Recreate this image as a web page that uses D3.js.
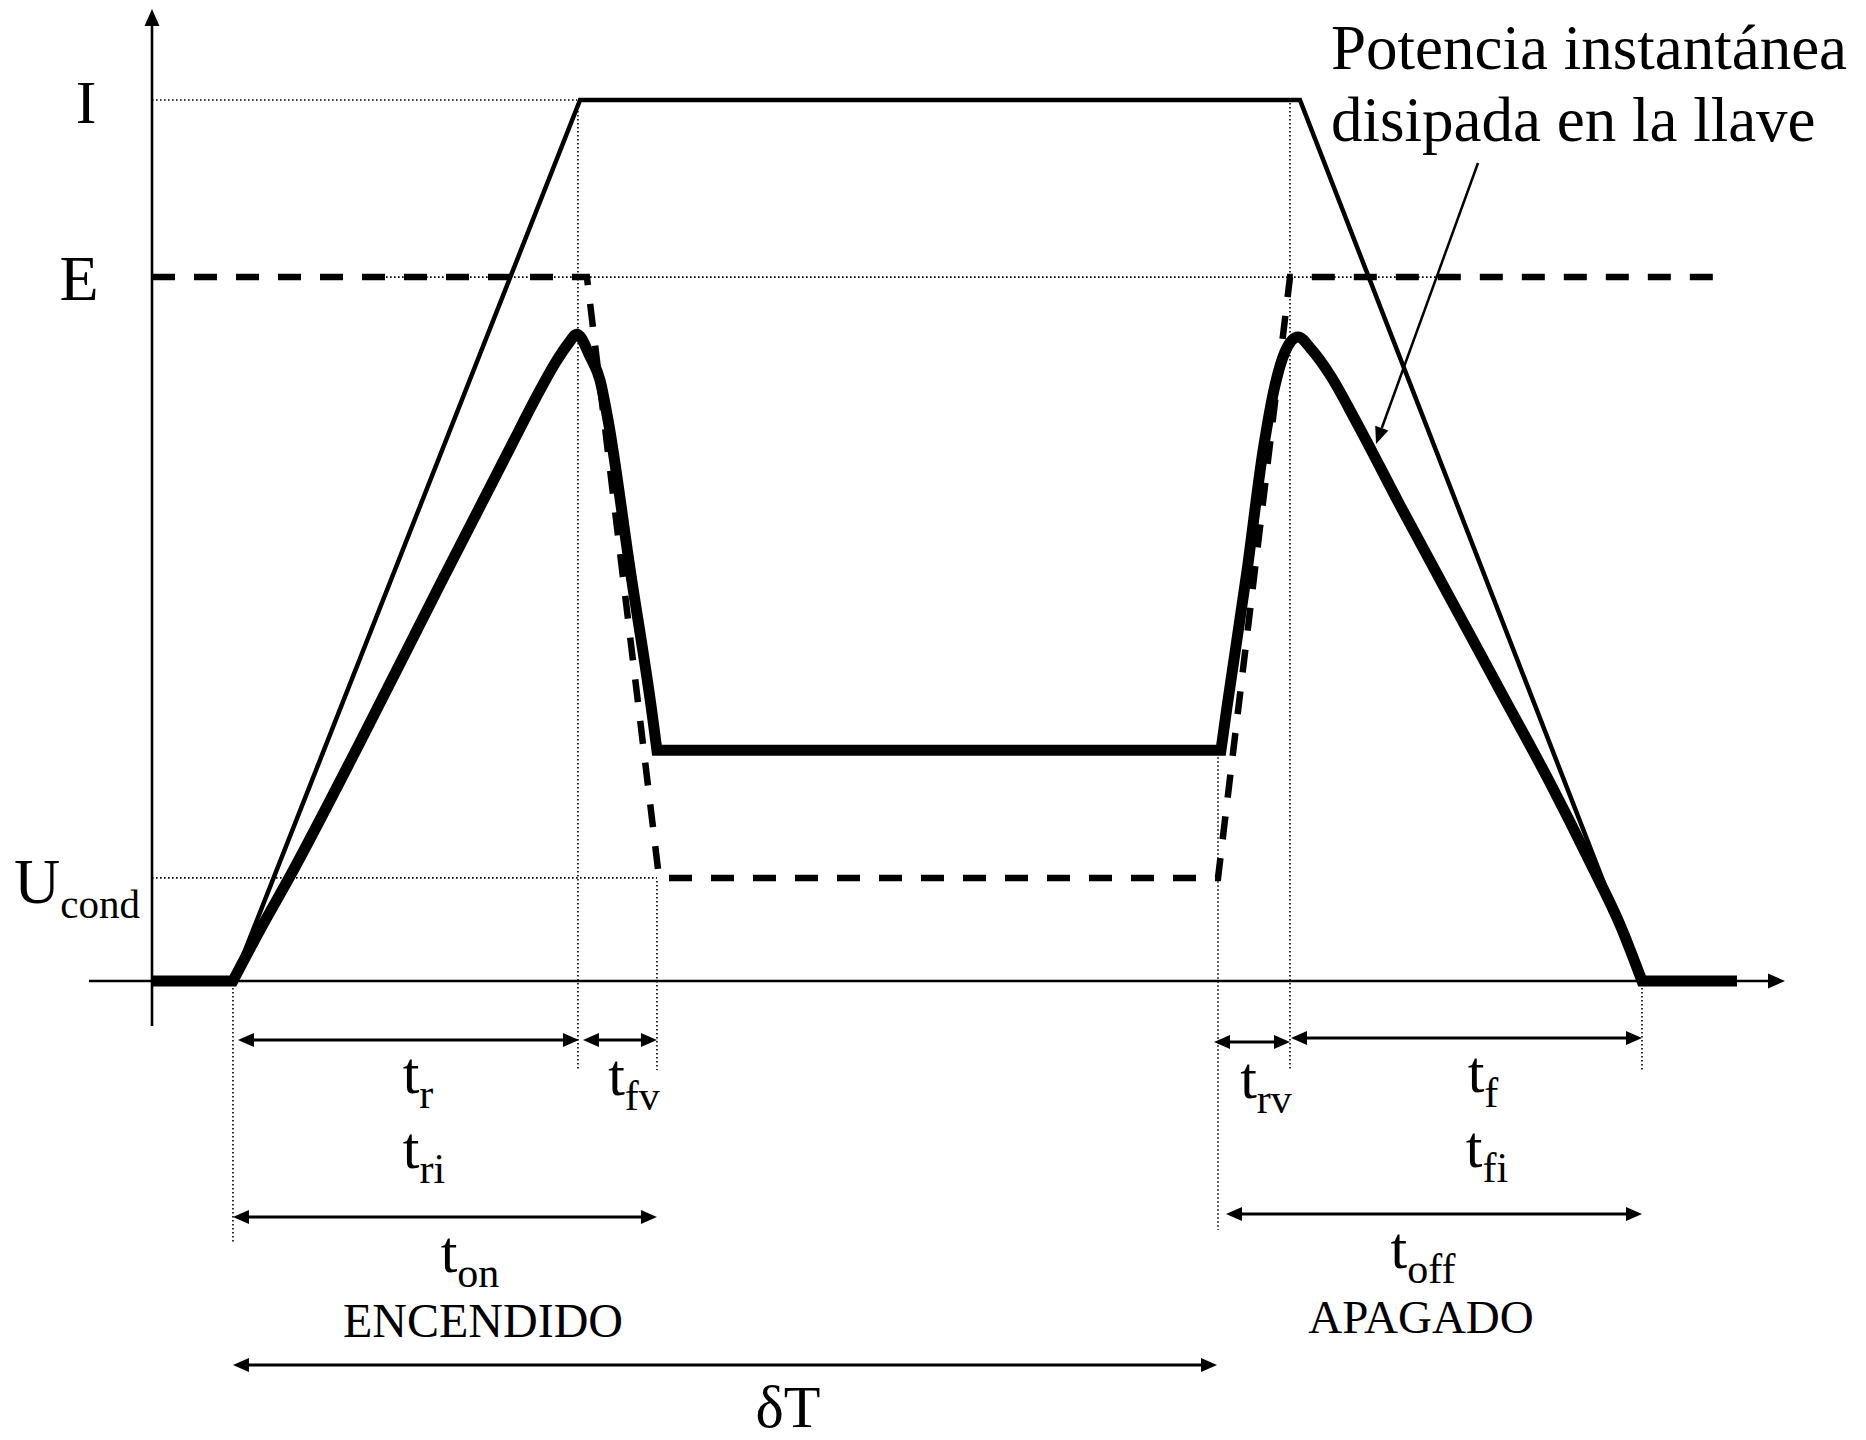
<!DOCTYPE html>
<html>
<head>
<meta charset="utf-8">
<script src="https://cdn.jsdelivr.net/npm/d3@7"></script>
<style>
html,body{margin:0;padding:0;background:#fff;}
svg{display:block;}
text{font-family:"Liberation Serif","Times New Roman",serif;fill:#000;}
</style>
</head>
<body>
<svg id="chart" width="1866" height="1440"></svg>
<script>
// ---------- DATA (time in abstract units 0..100, level as fraction of I) ----------
const levelNames  = ["I", "E", "U"];
const levelSubs   = ["", "", "cond"];
const levelValues = [1.0, 0.799, 0.117];

// switching instants
const tStart = 4.96, tI = 26.1, tV = 30.94, tOffStart = 65.32, tE = 69.73, tEnd = 91.30;

// current (thin solid trapezoid)
const currentT = [4.96, 26.23, 70.34, 91.30];
const currentV = [0, 1, 1, 0];

// voltage (dashed)
const voltageT = [0, 26.65, 31.07, 65.32, 69.73, 96.45];
const voltageV = [0.799, 0.799, 0.117, 0.117, 0.799, 0.799];

// instantaneous power (thick)
const powerPreT = [0, 4.96];
const powerPreV = [0, 0];
const powerOnT  = [4.96, 6.62, 8.46, 12.75, 17.65, 21.94, 23.78, 24.76, 25.49, 26.04, 26.84, 27.45, 27.94, 29.29, 30.64, 30.94];
const powerOnV  = [0, 0.058, 0.119, 0.271, 0.450, 0.605, 0.671, 0.703, 0.723, 0.734, 0.709, 0.682, 0.637, 0.468, 0.304, 0.262];
const powerCondT = [30.94, 65.50];
const powerCondV = [0.262, 0.262];
const powerOffT = [65.50, 65.87, 67.10, 68.08, 68.81, 69.42, 70.22, 71.08, 72.18, 73.84, 76.47, 79.53, 82.60, 85.66, 88.11, 89.95, 91.30];
const powerOffV = [0.262, 0.311, 0.466, 0.602, 0.676, 0.714, 0.731, 0.716, 0.688, 0.633, 0.540, 0.435, 0.330, 0.225, 0.135, 0.064, 0];
const powerPostT = [91.30, 97.12];
const powerPostV = [0, 0];

// dimension arrows
const dimNames  = ["tr", "tfv", "trv", "tf", "ton", "toff", "dT"];
const dimFrom   = [tStart, tI, tOffStart, tE, tStart, tOffStart, tStart];
const dimTo     = [tI, tV, tE, tEnd, tV, tEnd, tOffStart];

// time labels
const labelMain = ["t", "t", "t", "t", "t", "t", "t", "t"];
const labelSub  = ["r", "fv", "ri", "on", "rv", "f", "fi", "off"];
const periodLabel = "δT";
const wordLabels = ["ENCENDIDO", "APAGADO"];
const noteLines = ["Potencia instantánea", "disipada en la llave"];

// ---------- LAYOUT ----------
const W = 1866, H = 1440;
const svg = d3.select("#chart");
svg.append("rect").attr("width", W).attr("height", H).attr("fill", "#fff");

const x = d3.scaleLinear().domain([0, 100]).range([152, 1784]);
const y = d3.scaleLinear().domain([0, 1]).range([981, 100]);

const g = svg.append("g");
const dot = sel => sel.attr("stroke", "#000").attr("stroke-width", 1.6).attr("stroke-dasharray", "1.6,2.4").attr("fill", "none");

// dotted guides (horizontal)
const hGuides = [[0, tI - 0.05, levelValues[0]], [14.34, 79.9, levelValues[1]], [0, tV, levelValues[2]]];
hGuides.forEach(([a, b, v]) => {
  g.append("line").attr("x1", x(a)).attr("x2", x(b)).attr("y1", y(v)).attr("y2", y(v)).call(dot);
});
// dotted guides (vertical)
const vGuides = [[tStart, 0, 1242], [tI, 1, 1070], [tV, levelValues[2], 1070], [tOffStart, 0.262, 1230], [tE, 1, 1070], [tEnd, 0, 1070]];
vGuides.forEach(([t, v, yb]) => {
  g.append("line").attr("x1", x(t)).attr("x2", x(t)).attr("y1", y(v) + 3).attr("y2", yb).call(dot);
});

// axes
g.append("line").attr("x1", x(0)).attr("x2", x(0)).attr("y1", 1026).attr("y2", 20).attr("stroke", "#000").attr("stroke-width", 2.6);
g.append("path").attr("d", `M${x(0)},9 L${x(0) - 7.5},26 L${x(0) + 7.5},26 Z`).attr("fill", "#000");
g.append("line").attr("x1", 89).attr("x2", 1772).attr("y1", y(0)).attr("y2", y(0)).attr("stroke", "#000").attr("stroke-width", 2.6);
g.append("path").attr("d", `M1785,${y(0)} L1768,${y(0) - 7.5} L1768,${y(0) + 7.5} Z`).attr("fill", "#000");

// current
const lineLin = d3.line().x(d => x(d[0])).y(d => y(d[1]));
g.append("path").attr("d", lineLin(d3.zip(currentT, currentV)))
  .attr("fill", "none").attr("stroke", "#000").attr("stroke-width", 4.5).attr("stroke-linejoin", "miter");

// voltage
g.append("path").attr("d", lineLin(d3.zip(voltageT, voltageV)))
  .attr("fill", "none").attr("stroke", "#000").attr("stroke-width", 6.5).attr("stroke-dasharray", "23,19");

// power
const lineMono = d3.line().x(d => x(d[0])).y(d => y(d[1])).curve(d3.curveMonotoneX);
const parts = [
  lineLin(d3.zip(powerPreT, powerPreV)),
  lineMono(d3.zip(powerOnT, powerOnV)),
  lineLin(d3.zip(powerCondT, powerCondV)),
  lineMono(d3.zip(powerOffT, powerOffV)),
  lineLin(d3.zip(powerPostT, powerPostV))
];
const powerD = parts.map((p, i) => i === 0 ? p : p.replace(/^M/, "L")).join("");
g.append("path").attr("d", powerD)
  .attr("fill", "none").attr("stroke", "#000").attr("stroke-width", 11).attr("stroke-linejoin", "miter").attr("stroke-miterlimit", 4);

// dimension arrows
const dimY = [1040, 1040, 1042, 1038, 1217, 1214, 1365];
const dimInset = [[5, 1], [5, 0], [-4, 0], [1, 0], [0, 0], [8, 0], [0, -1]];
function dArrow(x1, x2, yy) {
  g.append("line").attr("x1", x1 + 10).attr("x2", x2 - 10).attr("y1", yy).attr("y2", yy).attr("stroke", "#000").attr("stroke-width", 3);
  g.append("path").attr("d", `M${x1},${yy} L${x1 + 16},${yy - 7} L${x1 + 16},${yy + 7} Z`).attr("fill", "#000");
  g.append("path").attr("d", `M${x2},${yy} L${x2 - 16},${yy - 7} L${x2 - 16},${yy + 7} Z`).attr("fill", "#000");
}
dimNames.forEach((n, i) => dArrow(x(dimFrom[i]) + dimInset[i][0], x(dimTo[i]) + dimInset[i][1], dimY[i]));

// level labels
const levelPos = [[86, 123, 62], [79, 300, 64], [14, 903, 64]];
levelNames.forEach((n, i) => {
  const t = g.append("text").attr("x", levelPos[i][0]).attr("y", levelPos[i][1])
    .attr("font-size", levelPos[i][2]).attr("text-anchor", i === 2 ? "start" : "middle").text(n);
  if (levelSubs[i]) t.append("tspan").attr("font-size", 41).attr("dy", 15).text(levelSubs[i]);
});

// time labels
const labPos = [[418, 1093], [634, 1095], [424, 1168], [470, 1272], [1266, 1098], [1483, 1092], [1487, 1167], [1423, 1268]];
labelSub.forEach((s, i) => {
  const t = g.append("text").attr("x", labPos[i][0]).attr("y", labPos[i][1]).attr("text-anchor", "middle").attr("font-size", 60);
  t.append("tspan").text(labelMain[i]);
  t.append("tspan").attr("font-size", 42).attr("dy", 15).text(s);
});
g.append("text").attr("x", 788).attr("y", 1427).attr("text-anchor", "middle").attr("font-size", 60).text(periodLabel);

// words
g.append("text").attr("x", 483).attr("y", 1337).attr("text-anchor", "middle").attr("font-size", 48).text(wordLabels[0]);
g.append("text").attr("x", 1421).attr("y", 1333).attr("text-anchor", "middle").attr("font-size", 47).text(wordLabels[1]);

// annotation
g.append("text").attr("x", 1331).attr("y", 69).attr("font-size", 63).text(noteLines[0]);
g.append("text").attr("x", 1331).attr("y", 141).attr("font-size", 63).text(noteLines[1]);
const ax1 = 1478, ay1 = 163, ax2 = 1376, ay2 = 444;
const ang = Math.atan2(ay2 - ay1, ax2 - ax1);
const hl = 17, hw = 7;
const bx = ax2 - hl * Math.cos(ang), by = ay2 - hl * Math.sin(ang);
g.append("line").attr("x1", ax1).attr("y1", ay1).attr("x2", bx).attr("y2", by).attr("stroke", "#000").attr("stroke-width", 2.5);
g.append("path").attr("d", `M${ax2},${ay2} L${bx + hw * Math.sin(ang)},${by - hw * Math.cos(ang)} L${bx - hw * Math.sin(ang)},${by + hw * Math.cos(ang)} Z`).attr("fill", "#000");
</script>
</body>
</html>
